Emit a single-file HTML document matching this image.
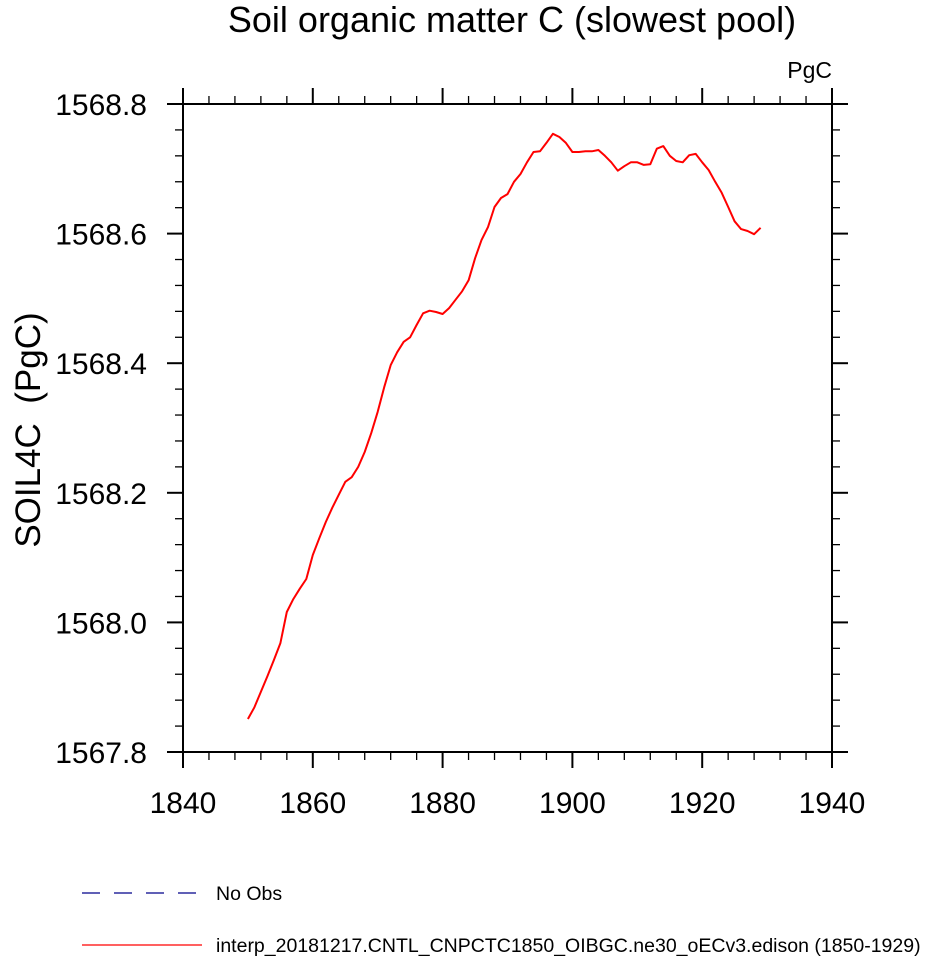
<!DOCTYPE html>
<html><head><meta charset="utf-8"><style>
html,body{margin:0;padding:0;background:#fff;}
svg text{font-family:"Liberation Sans",Helvetica,Arial,sans-serif;}
</style></head><body>
<svg id="chart" width="930" height="957" viewBox="0 0 930 957" xmlns="http://www.w3.org/2000/svg">
<text x="512" y="32" font-size="36" text-anchor="middle">Soil organic matter C (slowest pool)</text>
<text x="832" y="78" font-size="23" text-anchor="end">PgC</text>
<text transform="translate(40,430) rotate(-90)" font-size="35" text-anchor="middle" style="white-space:pre">SOIL4C  (PgC)</text>
<g id="axes"></g>
<g id="series"></g>
<g>
<line x1="82" y1="893" x2="196" y2="893" stroke="#00008b" stroke-width="1.2" stroke-dasharray="18,14"/>
<text x="216" y="900" font-size="19.5">No Obs</text>
<line x1="82" y1="945" x2="202" y2="945" stroke="#ff0000" stroke-width="1.2"/>
<text x="216" y="952" font-size="19.5">interp_20181217.CNTL_CNPCTC1850_OIBGC.ne30_oECv3.edison (1850-1929)</text>
</g>
</svg>
<script>
const startYear = 1850;
const values = [1567.851,1567.869,1567.893,1567.917,1567.942,1567.968,1568.016,1568.036,1568.052,1568.067,
1568.104,1568.130,1568.155,1568.177,1568.197,1568.217,1568.224,1568.240,1568.263,1568.292,
1568.325,1568.363,1568.397,1568.417,1568.433,1568.440,1568.459,1568.477,1568.481,1568.479,
1568.476,1568.485,1568.498,1568.511,1568.528,1568.562,1568.590,1568.610,1568.641,1568.655,
1568.661,1568.680,1568.692,1568.710,1568.726,1568.727,1568.740,1568.754,1568.749,1568.740,
1568.726,1568.726,1568.727,1568.727,1568.729,1568.720,1568.710,1568.697,1568.704,1568.710,
1568.710,1568.706,1568.707,1568.731,1568.735,1568.720,1568.712,1568.710,1568.721,1568.723,
1568.710,1568.698,1568.680,1568.663,1568.641,1568.619,1568.607,1568.604,1568.599,1568.609];
const xTicks = [1840,1860,1880,1900,1920,1940];
const yTicks = [1567.8,1568.0,1568.2,1568.4,1568.6,1568.8];

const L=183,R=832,T=104,B=752;
const xMin=1840,xMax=1940,yMin=1567.8,yMax=1568.8;
const X=v=>L+(v-xMin)/(xMax-xMin)*(R-L);
const Y=v=>B-(v-yMin)/(yMax-yMin)*(B-T);
const NS="http://www.w3.org/2000/svg";
const axes=document.getElementById('axes');
function mk(tag,attrs,parent){const e=document.createElementNS(NS,tag);for(const k in attrs)e.setAttribute(k,attrs[k]);parent.appendChild(e);return e;}
const frame=mk('rect',{x:L,y:T,width:R-L,height:B-T,fill:'none',stroke:'#000','stroke-width':2},axes);


for(let yr=xMin;yr<=xMax;yr+=4){
  const major=(yr-xMin)%20===0;const len=major?16:8;
  const t1=mk('line',{x1:X(yr),x2:X(yr),y1:B,y2:B+len,stroke:'#000','stroke-width':major?2:1.3},axes);
  
  
  const t2=mk('line',{x1:X(yr),x2:X(yr),y1:T,y2:T-len,stroke:'#000','stroke-width':major?2:1.3},axes);
  
  
}
xTicks.forEach(v=>{const t=mk('text',{x:X(v),y:B+61,'font-size':30,'text-anchor':'middle'},axes);t.textContent=v;
  
  });
for(let i=0;i<=25;i++){
  const v=yMin+i*0.04;const major=i%5===0;const len=major?16:8;
  const t1=mk('line',{x1:L,x2:L-len,y1:Y(v),y2:Y(v),stroke:'#000','stroke-width':major?2:1.3},axes);
  
  
  const t2=mk('line',{x1:R,x2:R+len,y1:Y(v),y2:Y(v),stroke:'#000','stroke-width':major?2:1.3},axes);
  
  
}
yTicks.forEach(v=>{const t=mk('text',{x:L-36,y:Y(v)+11,'font-size':30,'text-anchor':'end'},axes);t.textContent=v.toFixed(1);
  
  });
const pts=values.map((v,i)=>X(startYear+i).toFixed(1)+','+Y(v).toFixed(1)).join(' ');
const line=mk('polyline',{points:pts,fill:'none',stroke:'#ff0000','stroke-width':2,'stroke-linejoin':'round'},document.getElementById('series'));


</script>
</body></html>
